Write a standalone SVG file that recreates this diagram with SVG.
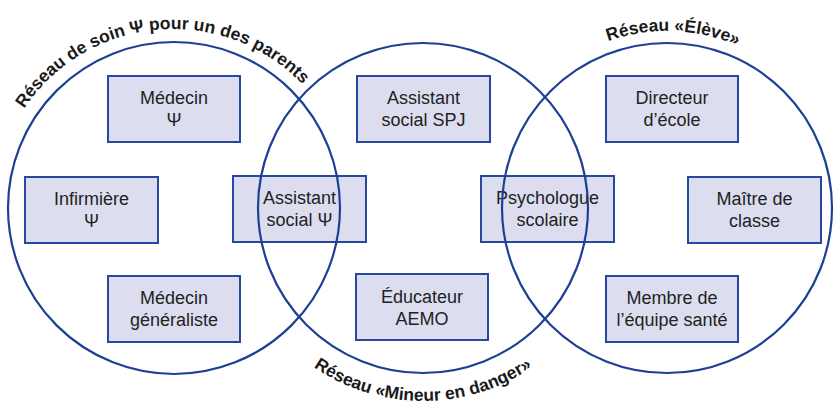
<svg xmlns="http://www.w3.org/2000/svg" width="834" height="408" viewBox="0 0 834 408">
<style>
.box{fill:#dcdef0;stroke:#2747a0;stroke-width:2}
.t{font-family:"Liberation Sans",Arial,sans-serif;font-size:18px;fill:#222;text-anchor:middle}
.ring{fill:none;stroke:#1e3f96;stroke-width:2.2}
.lbl{font-family:"Liberation Sans",Arial,sans-serif;font-size:17.5px;font-weight:bold;fill:#1a1a1a}
</style>
<defs>
<path id="arcL" d="M -6 208 A 179 179 0 0 1 352 208"/>
<path id="arcR" d="M 490 208 A 177 177 0 0 1 844 208"/>
<path id="arcB" d="M 230 208 A 193 193 0 0 0 616 208"/>
</defs>
<rect width="834" height="408" fill="#fff"/>
<g id="medecin-psy"><rect class="box" x="108" y="76" width="132" height="66"/><text class="t" x="174" y="104">Médecin</text><text class="t" x="174" y="126">Ψ</text></g>
<g id="infirmiere"><rect class="box" x="25" y="177" width="133" height="66"/><text class="t" x="91.5" y="205">Infirmière</text><text class="t" x="91.5" y="227">Ψ</text></g>
<g id="medecin-generaliste"><rect class="box" x="108" y="276" width="132" height="66"/><text class="t" x="174" y="304">Médecin</text><text class="t" x="174" y="326">généraliste</text></g>
<g id="assistant-social-psy"><rect class="box" x="233" y="176" width="133" height="66"/><text class="t" x="299.5" y="204">Assistant</text><text class="t" x="299.5" y="226">social Ψ</text></g>
<g id="assistant-social-spj"><rect class="box" x="357" y="76" width="133" height="66"/><text class="t" x="423.5" y="104">Assistant</text><text class="t" x="423.5" y="126">social SPJ</text></g>
<g id="educateur-aemo"><rect class="box" x="356" y="274" width="132" height="66"/><text class="t" x="422" y="303">Éducateur</text><text class="t" x="422" y="325">AEMO</text></g>
<g id="psychologue-scolaire"><rect class="box" x="481" y="176" width="133" height="66"/><text class="t" x="547.5" y="204">Psychologue</text><text class="t" x="547.5" y="226">scolaire</text></g>
<g id="directeur-ecole"><rect class="box" x="606" y="76" width="132" height="66"/><text class="t" x="672" y="104">Directeur</text><text class="t" x="672" y="126">d’école</text></g>
<g id="maitre-classe"><rect class="box" x="688" y="177" width="133" height="66"/><text class="t" x="754.5" y="205">Maître de</text><text class="t" x="754.5" y="227">classe</text></g>
<g id="membre-equipe-sante"><rect class="box" x="606" y="276" width="132" height="66"/><text class="t" x="672" y="304">Membre de</text><text class="t" x="672" y="326">l’équipe santé</text></g>
<g id="networks">
<circle class="ring" cx="174" cy="208" r="166"/>
<circle class="ring" cx="423" cy="208" r="165"/>
<circle class="ring" cx="667" cy="208" r="165"/>
</g>
<g id="labels">
<g transform="rotate(-5 173 208)"><text class="lbl"><textPath href="#arcL" startOffset="50%" text-anchor="middle">Réseau de soin Ψ pour un des parents</textPath></text></g>
<g transform="rotate(2 667 208)"><text class="lbl"><textPath href="#arcR" startOffset="50%" text-anchor="middle">Réseau «Élève»</textPath></text></g>
<text class="lbl"><textPath href="#arcB" startOffset="50%" text-anchor="middle">Réseau «Mineur en danger»</textPath></text>
</g>
</svg>
